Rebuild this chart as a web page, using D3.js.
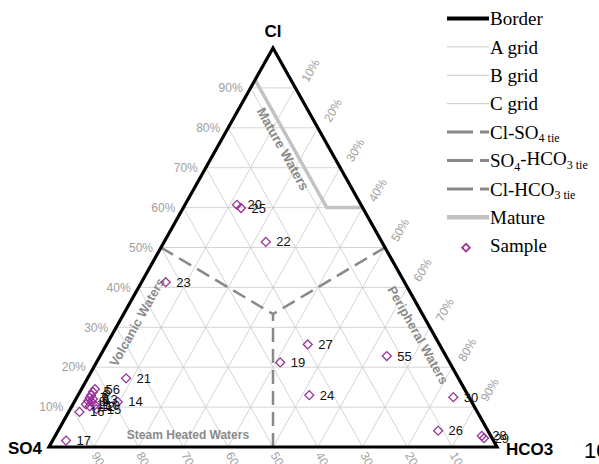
<!DOCTYPE html>
<html>
<head>
<meta charset="utf-8">
<script src="https://cdn.jsdelivr.net/npm/d3@7/dist/d3.min.js"></script>
<style>
  html, body { margin: 0; padding: 0; background: #fff; }
  svg { display: block; }
</style>
</head>
<body>
<svg id="chart" width="599" height="464"></svg>
<script>
// Giggenbach Cl–SO4–HCO3 ternary diagram of water samples (percentages)
const sampleIds = ["20", "25", "22", "23", "21", "14", "17",
  "56", "5", "6", "7", "8", "9", "10", "11", "12", "13", "15", "16",
  "30", "26", "28", "29", "55", "27", "19", "24"];
const clPct   = [60.7, 59.9, 51.4, 41.3, 17.2, 11.3, 1.6,
  14.5, 13.8, 13.0, 12.3, 11.5, 11.3, 10.5, 10.7, 10.2, 12.0, 9.5, 8.8,
  12.5, 4.1, 2.8, 2.2, 22.8, 25.7, 21.2, 13.0];
const so4Pct  = [27.7, 27.2, 25.9, 53.3, 74.2, 79.0, 95.4,
  82.5, 83.3, 84.1, 84.8, 85.5, 84.8, 84.5, 86.4, 85.8, 84.2, 84.7, 88.8,
  3.5, 11.1, 2.0, 1.8, 13.2, 29.4, 37.8, 35.4];
const hco3Pct = [11.6, 12.9, 22.7, 5.4, 8.6, 9.7, 3.0,
  3.0, 2.9, 2.9, 2.9, 3.0, 3.9, 5.0, 2.9, 4.0, 3.8, 5.8, 2.4,
  84.0, 84.8, 95.2, 96.0, 64.0, 44.9, 41.0, 51.6];

const gridSteps = [10, 20, 30, 40, 50, 60, 70, 80, 90];
const leftTickLabels   = ["10%", "20%", "30%", "40%", "50%", "60%", "70%", "80%", "90%"];
const rightTickLabels  = ["10%", "20%", "30%", "40%", "50%", "60%", "70%", "80%", "90%"];
const bottomTickLabels = ["10", "20", "30", "40", "50", "60", "70", "80", "90"];

// Tie lines join the edge mid-points to the centre (Cl, SO4, HCO3)
const tieLines = [
  { name: "Cl-SO4",   from: [50, 50, 0], to: [100 / 3, 100 / 3, 100 / 3] },
  { name: "SO4-HCO3", from: [0, 50, 50], to: [100 / 3, 100 / 3, 100 / 3] },
  { name: "Cl-HCO3",  from: [50, 0, 50], to: [100 / 3, 100 / 3, 100 / 3] }
];
// Mature waters boundary (Cl, SO4, HCO3)
const matureLine = [[92, 8, 0], [60, 8, 32], [60, 0, 40]];

const legendNames = ["Border", "A grid", "B grid", "C grid", "Cl-SO4 tie",
  "SO4-HCO3 tie", "Cl-HCO3 tie", "Mature", "Sample"];

const svg = d3.select("#chart");
const sans = "Arial, 'Liberation Sans', sans-serif";
const serif = "'Times New Roman', 'Liberation Serif', serif";
const purple = "#993399";

// Cl runs bottom to apex; horizontal position follows HCO3 + Cl/2
const yScale = d3.scaleLinear().domain([0, 100]).range([447, 48]);
const xScale = d3.scaleLinear().domain([0, 100]).range([49, 497]);
const proj = (cl, so4, hco3) => [xScale(hco3 + cl / 2), yScale(cl)];
const line = d3.line();

const edgeAngle = Math.atan2(yScale(0) - yScale(100), xScale(50) - xScale(0)) * 180 / Math.PI;

// Grid
const grid = svg.append("g").attr("stroke", "#c9c9c9").attr("stroke-width", 0.8).attr("fill", "none");
gridSteps.forEach(k => {
  grid.append("path").attr("d", line([proj(k, 100 - k, 0), proj(k, 0, 100 - k)]));
  grid.append("path").attr("d", line([proj(0, 100 - k, k), proj(100 - k, 0, k)]));
  grid.append("path").attr("d", line([proj(0, k, 100 - k), proj(100 - k, k, 0)]));
});

// Tie lines
svg.append("g").selectAll("path").data(tieLines).join("path")
  .attr("d", d => line([proj(...d.from), proj(...d.to)]))
  .attr("fill", "none").attr("stroke", "#888").attr("stroke-width", 2.5)
  .attr("stroke-dasharray", "14,7");

// Mature waters line
svg.append("path").attr("d", line(matureLine.map(p => proj(...p))))
  .attr("fill", "none").attr("stroke", "#c2c2c2").attr("stroke-width", 3.5);

// Border
svg.append("path")
  .attr("d", line([proj(100, 0, 0), proj(0, 100, 0), proj(0, 0, 100)]) + "Z")
  .attr("fill", "none").attr("stroke", "#000").attr("stroke-width", 3.2)
  .attr("stroke-linejoin", "miter");

// Axis percentage labels
const tickG = svg.append("g").attr("font-family", sans).attr("font-size", 12).attr("fill", "#a0a0a0");
gridSteps.forEach((k, i) => {
  const [lx, ly] = proj(k, 100 - k, 0);
  tickG.append("text").attr("x", lx - 8).attr("y", ly).attr("dy", "0.35em")
    .attr("text-anchor", "end").text(leftTickLabels[i]);
  const [rx, ry] = proj(100 - k, 0, k);
  tickG.append("text").attr("transform", `translate(${rx + 9},${ry - 7}) rotate(-60)`)
    .attr("dy", "0.35em").text(rightTickLabels[i]);
  const [bx, by] = proj(0, k, 100 - k);
  tickG.append("text").attr("transform", `translate(${bx + 1},${by + 6}) rotate(60)`)
    .attr("dy", "0.35em").text(bottomTickLabels[i]);
});

// Region names
const regionG = svg.append("g").attr("font-family", sans).attr("font-weight", "bold")
  .attr("font-size", 13).attr("fill", "#8a8a8a").attr("text-anchor", "middle");
regionG.append("text").attr("transform", `translate(283,149) rotate(${edgeAngle})`)
  .attr("dy", "0.35em").attr("font-size", 13.5).text("Mature Waters");
regionG.append("text").attr("transform", `translate(137,322) rotate(${-edgeAngle})`)
  .attr("dy", "0.35em").text("Volcanic Waters");
regionG.append("text").attr("transform", `translate(418,335) rotate(${edgeAngle})`)
  .attr("dy", "0.35em").text("Peripheral Waters");
regionG.append("text").attr("x", 188).attr("y", 435)
  .attr("dy", "0.35em").attr("font-size", 12).text("Steam Heated Waters");

// Vertex names
const vG = svg.append("g").attr("font-family", sans).attr("font-weight", "bold").attr("fill", "#000");
vG.append("text").attr("x", xScale(50)).attr("y", 31).attr("dy", "0.35em")
  .attr("text-anchor", "middle").attr("font-size", 17).text("Cl");
vG.append("text").attr("x", 8).attr("y", 448).attr("dy", "0.35em")
  .attr("font-size", 17).text("SO4");
vG.append("text").attr("x", 506).attr("y", 449).attr("dy", "0.35em")
  .attr("font-size", 17).text("HCO3");
vG.append("text").attr("x", 584).attr("y", 450).attr("dy", "0.35em")
  .attr("font-size", 22).attr("font-weight", "normal").text("100%");

// Samples
const samples = sampleIds.map((id, i) => ({ id, cl: clPct[i], so4: so4Pct[i], hco3: hco3Pct[i] }));
const diamond = d3.symbol().type(d3.symbolSquare).size(40);
const sG = svg.append("g");
sG.selectAll("path").data(samples).join("path")
  .attr("d", diamond)
  .attr("transform", d => { const [x, y] = proj(d.cl, d.so4, d.hco3); return `translate(${x},${y}) rotate(45)`; })
  .attr("fill", "none").attr("stroke", purple).attr("stroke-width", 1.3);
sG.selectAll("text").data(samples).join("text")
  .attr("x", d => proj(d.cl, d.so4, d.hco3)[0] + 10.5)
  .attr("y", d => proj(d.cl, d.so4, d.hco3)[1])
  .attr("dy", "0.35em")
  .attr("font-family", sans).attr("font-size", 13).attr("fill", "#111")
  .text(d => d.id);

// Legend
const lg = svg.append("g").attr("font-family", serif).attr("font-size", 19).attr("fill", "#000");
const rowY = i => 18.5 + i * 28.4;
const legendStyles = [
  { stroke: "#000", width: 4 },
  { stroke: "#c9c9c9", width: 1 },
  { stroke: "#c9c9c9", width: 1 },
  { stroke: "#c9c9c9", width: 1 },
  { stroke: "#888", width: 3, dash: "26,7" },
  { stroke: "#888", width: 3, dash: "26,7" },
  { stroke: "#888", width: 3, dash: "26,7" },
  { stroke: "#c2c2c2", width: 4.5 }
];
legendNames.forEach((name, i) => {
  const y = rowY(i);
  if (i < legendStyles.length) {
    const st = legendStyles[i];
    lg.append("line").attr("x1", 447).attr("x2", 489).attr("y1", y).attr("y2", y)
      .attr("stroke", st.stroke).attr("stroke-width", st.width)
      .attr("stroke-dasharray", st.dash || null);
  } else {
    lg.append("path").attr("d", d3.symbol().type(d3.symbolSquare).size(30)())
      .attr("transform", `translate(466,${y + 2}) rotate(45)`)
      .attr("fill", "none").attr("stroke", purple).attr("stroke-width", 1.8);
  }
  const t = lg.append("text").attr("x", 490).attr("y", y).attr("dy", "0.35em");
  const sub = (s) => t.append("tspan").attr("font-size", 12).attr("dy", "0.3em").text(s);
  const norm = (s) => t.append("tspan").attr("font-size", 19).attr("dy", "-0.3em").text(s);
  if (name === "Cl-SO4 tie") {
    t.append("tspan").text("Cl-SO"); sub("4 tie");
  } else if (name === "SO4-HCO3 tie") {
    t.append("tspan").text("SO"); sub("4"); norm("-HCO"); sub("3 tie");
  } else if (name === "Cl-HCO3 tie") {
    t.append("tspan").text("Cl-HCO"); sub("3 tie");
  } else {
    t.text(name);
  }
});
</script>
</body>
</html>
